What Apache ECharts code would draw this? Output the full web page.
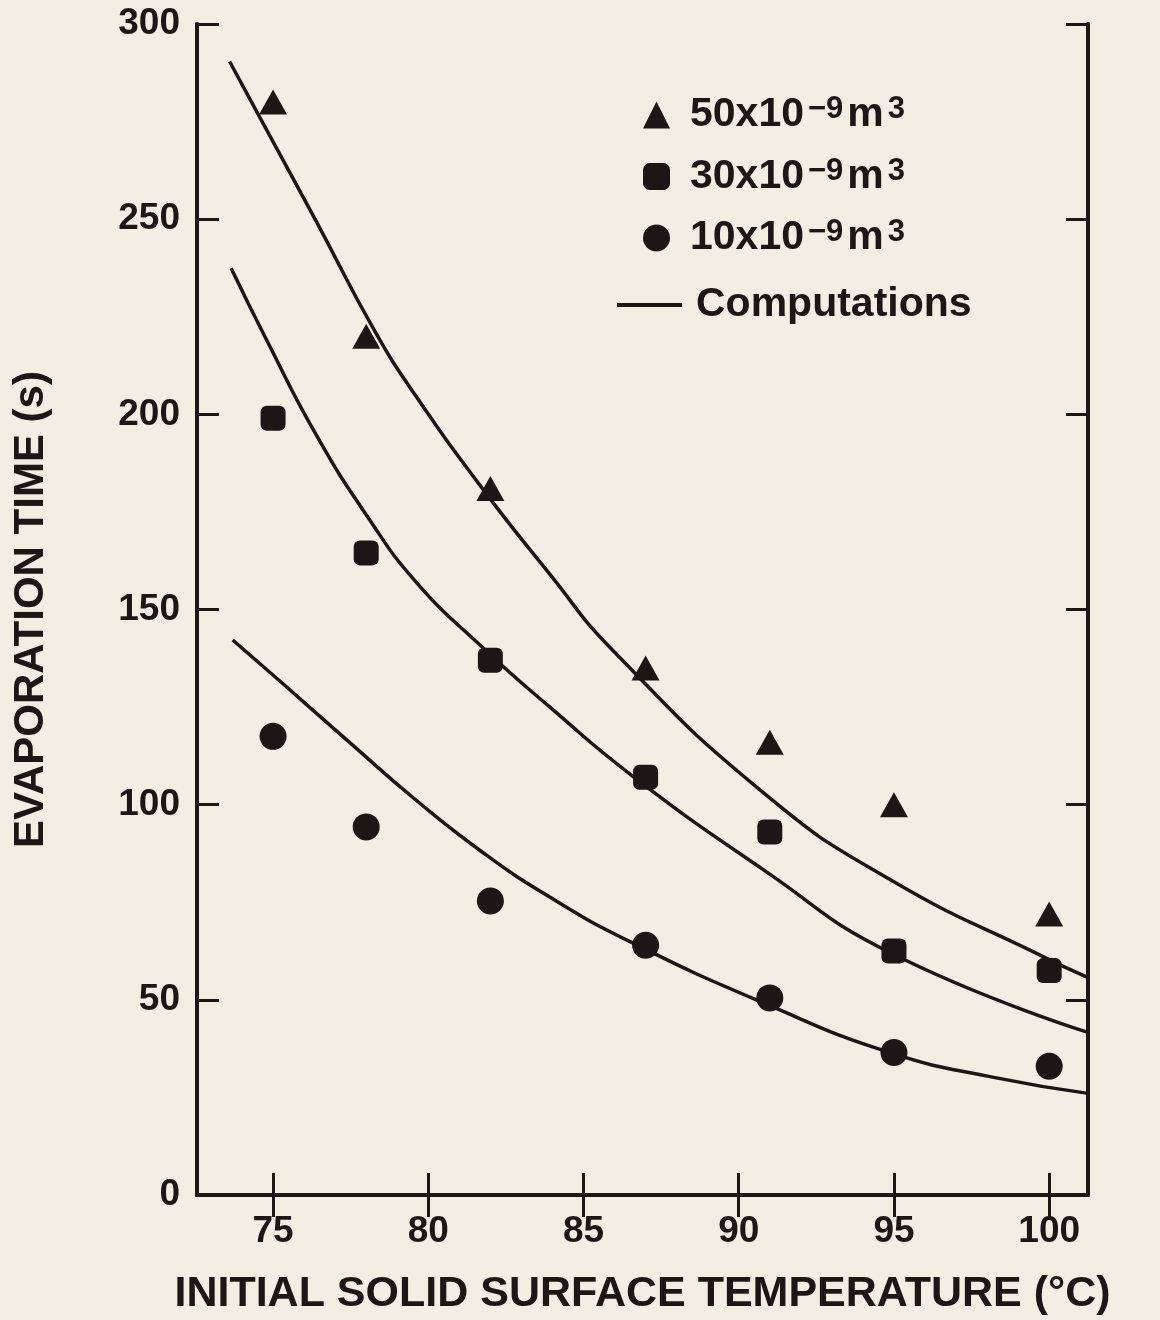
<!DOCTYPE html>
<html>
<head>
<meta charset="utf-8">
<script src="https://cdn.jsdelivr.net/npm/echarts@6/dist/echarts.min.js"></script>
<style>
  html, body { margin: 0; padding: 0; background: #f3eee4; }
  #chart { width: 1160px; height: 1320px; }
</style>
</head>
<body>
<div id="chart"></div>
<script>
// measured points (temperature °C, evaporation time s)
const tri50 = [[75, 280], [78, 220], [82, 181], [87, 135], [91, 116], [95, 100], [100, 72]];
const sq30 = [[75, 199], [78, 164.5], [82, 137], [87, 107], [91, 93], [95, 62.5], [100, 57.5]];
const circ10 = [[75, 117.5], [78, 94.3], [82, 75.3], [87, 64], [91, 50.5], [95, 36.5], [100, 33]];

// computed curves
const comp50 = [[73.6, 290.4], [74.6, 275.7], [76.4, 249.3], [78.3, 221], [79.6, 204.7], [81.8, 180.4], [83.9, 159.2], [85.9, 139.9], [90.8, 103], [94.9, 80.7], [99.9, 60.7], [101.2, 55.9]];
const comp30 = [[73.65, 237.4], [74.8, 218.9], [76.4, 194.6], [78.0, 174.3], [79.6, 157.1], [81.8, 139.9], [83.9, 125.1], [86.6, 107.2], [90.8, 83.3], [94.9, 62], [101.2, 41.8]];
const comp10 = [[73.7, 142.2], [75.3, 131.1], [77.5, 115.7], [79.6, 101.2], [81.8, 87.5], [83.9, 76.4], [86.5, 64.9], [90.8, 49.2], [94.9, 36.4], [98.3, 30], [101.2, 26.1]];

const xTicks = [75, 80, 85, 90, 95, 100];
const names = ['50', '30', '10'];

const ink = '#1c1616';
const font = 'Liberation Sans, Arial, sans-serif';

const myChart = echarts.init(document.getElementById('chart'));

const axisCommon = {
    axisLine: { show: true, lineStyle: { color: ink, width: 4 } },
    axisTick: { show: true, inside: true, length: 22, lineStyle: { color: ink, width: 3 } },
    splitLine: { show: false },
};
const xTick = { show: true, inside: true, length: 22, customValues: xTicks, lineStyle: { color: ink, width: 3 } };

// superscripts in the legend labels
const supRich = {
    n: { fontSize: 41, fontWeight: 'bold', color: ink, fontFamily: font, lineHeight: 42 },
    s: { fontSize: 31, fontWeight: 'bold', color: ink, fontFamily: font, lineHeight: 8, verticalAlign: 'top', padding: [0, 4, 0, 4] },
};

const curveStyle = {
    type: 'line',
    name: 'Computations',
    smooth: 0.5,
    symbol: 'none',
    lineStyle: { color: ink, width: 3.5 },
    itemStyle: { color: ink },
    z: 2,
};

myChart.setOption({
    backgroundColor: '#f3eee4',
    animation: false,
    grid: { left: 197, right: 72, top: 24, bottom: 125, outerBoundsMode: 'none' },
    legend: [
        {
            orient: 'vertical',
            left: 638,
            top: 89,
            itemWidth: 27,
            itemHeight: 27,
            itemGap: 20,
            data: [
                { name: '50', icon: 'triangle' },
                { name: '30', icon: 'roundRect' },
                { name: '10', icon: 'circle' },
            ],
            formatter: (n) => '{n|' + n + 'x10}{s|−9}{n|m}{s|3}',
            textStyle: { padding: [0, 0, 0, 15], rich: supRich },
        },
        {
            left: 612,
            top: 279,
            itemWidth: 65,
            itemHeight: 4,
            data: [{ name: 'Computations', icon: 'rect' }],
            textStyle: { padding: [0, 0, 0, 9], fontSize: 41, fontWeight: 'bold', color: ink, fontFamily: font, lineHeight: 42 },
        },
    ],
    xAxis: [
        {
            ...axisCommon,
            axisTick: xTick,
            type: 'value',
            position: 'bottom',
            min: 72.55,
            max: 101.25,
            name: 'INITIAL SOLID SURFACE TEMPERATURE (°C)',
            nameLocation: 'middle',
            nameGap: 78,
            nameTextStyle: { fontSize: 43, fontWeight: 'bold', color: ink, fontFamily: font },
            axisLabel: {
                margin: 18,
                fontSize: 37,
                fontWeight: 'bold',
                color: ink,
                fontFamily: font,
                customValues: xTicks,
            },
        },
        {
            ...axisCommon,
            axisTick: xTick,
            type: 'value',
            position: 'top',
            min: 72.55,
            max: 101.25,
            axisLabel: { show: false },
        },
    ],
    yAxis: [
        {
            ...axisCommon,
            type: 'value',
            position: 'left',
            min: 0,
            max: 300,
            interval: 50,
            name: 'EVAPORATION TIME (s)',
            nameLocation: 'middle',
            nameGap: 145,
            nameTextStyle: { fontSize: 42, fontWeight: 'bold', color: ink, fontFamily: font },
            axisLabel: { margin: 17, fontSize: 37, fontWeight: 'bold', color: ink, fontFamily: font },
        },
        {
            ...axisCommon,
            type: 'value',
            position: 'right',
            min: 0,
            max: 300,
            interval: 50,
            axisLabel: { show: false },
        },
    ],
    series: [
        { ...curveStyle, data: comp50 },
        { ...curveStyle, data: comp30 },
        { ...curveStyle, data: comp10 },
        { type: 'scatter', name: names[0], data: tri50, symbol: 'triangle', symbolSize: [28, 25], itemStyle: { color: ink, opacity: 1 }, z: 3 },
        { type: 'scatter', name: names[1], data: sq30, symbol: 'roundRect', symbolSize: 25, itemStyle: { color: ink, opacity: 1 }, z: 3 },
        { type: 'scatter', name: names[2], data: circ10, symbol: 'circle', symbolSize: 27, itemStyle: { color: ink, opacity: 1 }, z: 3 },
    ],
});
</script>
</body>
</html>
